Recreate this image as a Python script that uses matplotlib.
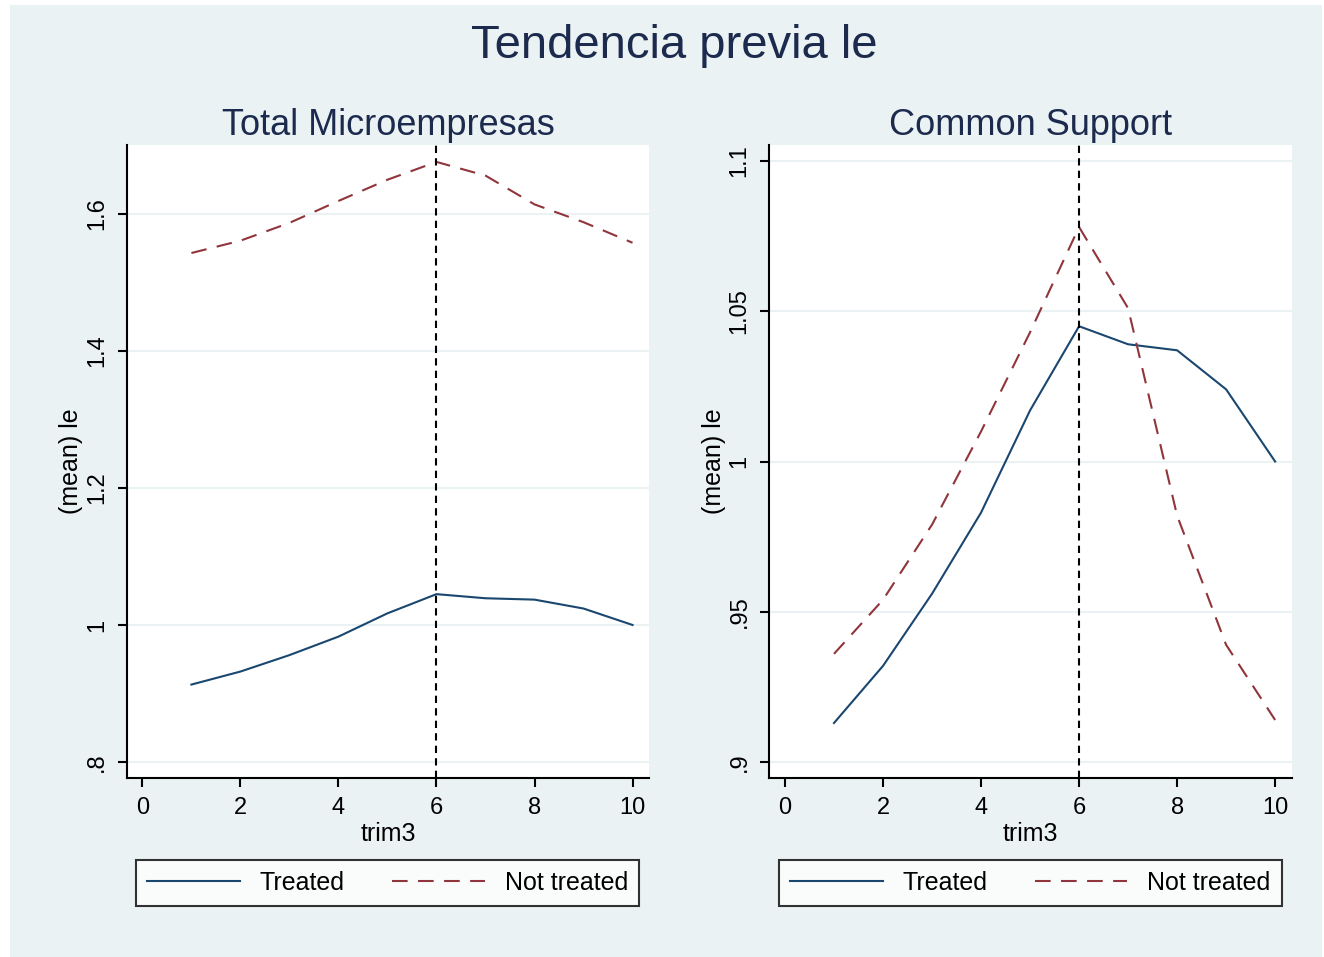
import numpy as np
import matplotlib
matplotlib.use("Agg")
import matplotlib.pyplot as plt
from matplotlib.patches import Rectangle

plt.rcParams['font.family'] = ['Liberation Sans', 'DejaVu Sans']

# Datos
trim3 = [1, 2, 3, 4, 5, 6, 7, 8, 9, 10]
tratados = [0.913, 0.932, 0.956, 0.983, 1.017, 1.045, 1.039, 1.037, 1.024, 1.000]
no_tratados_total = [1.543, 1.561, 1.587, 1.619, 1.650, 1.676, 1.656, 1.614, 1.588, 1.558]
no_tratados_cs = [0.936, 0.954, 0.979, 1.010, 1.043, 1.078, 1.051, 0.982, 0.939, 0.914]

yticks_total = [0.8, 1.0, 1.2, 1.4, 1.6]
yticklabels_total = [".8", "1", "1.2", "1.4", "1.6"]
yticks_cs = [0.9, 0.95, 1.0, 1.05, 1.1]
yticklabels_cs = [".9", ".95", "1", "1.05", "1.1"]
xticks = [0, 2, 4, 6, 8, 10]
corte = 6

fondo = "#eaf2f3"
azul = "#1a476f"
granate = "#90353b"
titulo_color = "#1c2a4e"

W, H = 1324, 957
fig = plt.figure(figsize=(W / 100, H / 100), dpi=100, facecolor="white")
fig.patches.append(Rectangle((10 / W, 0), 1312 / W, 1 - 5 / H, transform=fig.transFigure,
                             facecolor=fondo, edgecolor="none", zorder=-10))

fig.text(674 / W, 1 - 46 / H, "Tendencia previa le", ha="center", va="center",
         fontsize=34, color=titulo_color)


def panel(x0, titulo, no_tratados, yticks, ylabels, ylim):
    ax = fig.add_axes([x0 / W, 1 - 778 / H, 522.5 / W, 633 / H])
    ax.set_facecolor("white")
    ax.plot(trim3, tratados, color=azul, lw=1.5, label="Treated")
    ax.plot(trim3, no_tratados, color=granate, lw=1.5, dashes=(7.5, 5), label="Not treated")
    ax.axvline(corte, color="black", lw=1.5, dashes=(3.5, 2.5))
    ax.set_xlim(-0.32, 10.34)
    ax.set_ylim(*ylim)
    ax.set_xticks(xticks)
    ax.set_yticks(yticks)
    ax.set_yticklabels(ylabels, rotation=90, va="center")
    ax.grid(axis="y", color=fondo, lw=1.5)
    ax.set_axisbelow(True)
    for lado in ["top", "right"]:
        ax.spines[lado].set_visible(False)
    for lado in ["left", "bottom"]:
        ax.spines[lado].set_linewidth(1.5)
    ax.tick_params(length=6.5, width=1.5, labelsize=17, pad=7)
    ax.set_xlabel("trim3", fontsize=18, labelpad=2)
    ax.set_ylabel("(mean) le", fontsize=18, labelpad=2)
    ax.set_title(titulo, fontsize=26, color=titulo_color, pad=7)

    leg = fig.legend(handles=ax.get_lines()[:2], loc="center", ncol=2, mode="expand",
                     bbox_to_anchor=((x0 + 9.5) / W, 1 - 906 / H, 503 / W, 46 / H),
                     fontsize=18, handlelength=3.7, handletextpad=0.8, borderpad=0.45,
                     frameon=True, fancybox=False, borderaxespad=0)
    leg.get_frame().set_edgecolor("black")
    leg.get_frame().set_linewidth(1.5)
    return ax


panel(126.7, "Total Microempresas", no_tratados_total, yticks_total, yticklabels_total,
      (0.7766, 1.7007))
panel(769.3, "Common Support", no_tratados_cs, yticks_cs, yticklabels_cs,
      (0.8947, 1.1053))

fig.savefig("out.png", dpi=100, facecolor=fig.get_facecolor())
